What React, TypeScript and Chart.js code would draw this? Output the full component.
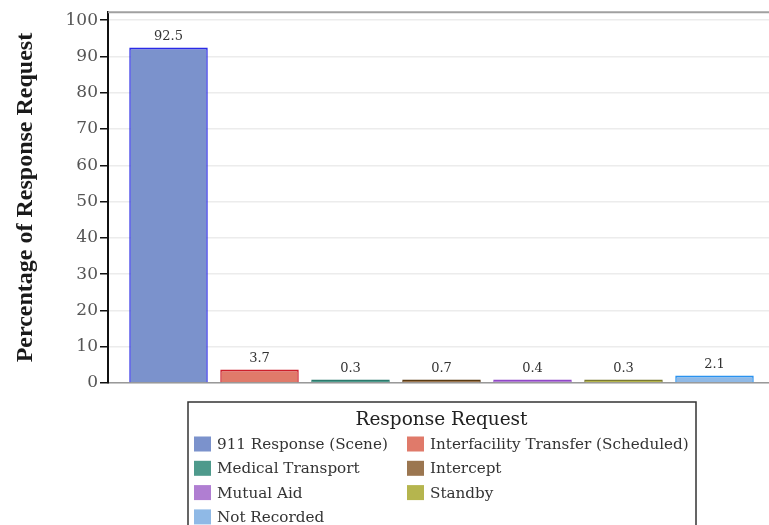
import React, { useEffect, useRef } from "react";
import { Chart, registerables } from "chart.js";

Chart.register(...registerables);

const categories = [
  "911 Response (Scene)",
  "Interfacility Transfer (Scheduled)",
  "Medical Transport",
  "Intercept",
  "Mutual Aid",
  "Standby",
  "Not Recorded",
];
const values = [92.5, 3.7, 0.3, 0.7, 0.4, 0.3, 2.1];
const fillColors = ["#7b92cc", "#e07a6a", "#4e9a8c", "#9b7650", "#b07ed2", "#b5b54e", "#8fb9e6"];
const borderColors = ["#2a2ae6", "#cc1f2a", "#2a7a6c", "#5a3a12", "#9048c8", "#7a7a30", "#2a92ef"];
const yTicks = [0, 10, 20, 30, 40, 50, 60, 70, 80, 90, 100];
const yTitle = "Percentage of Response Request";
const legendTitle = "Response Request";

const W = 780;
const H = 525;

const valueLabelPlugin = {
  id: "valueLabels",
  afterDatasetsDraw(chart: any) {
    const ctx = chart.ctx;
    ctx.save();
    ctx.font = "13px 'DejaVu Serif'";
    ctx.fillStyle = "#333";
    ctx.textAlign = "center";
    ctx.textBaseline = "bottom";
    chart.data.datasets.forEach((ds: any, i: number) => {
      const meta = chart.getDatasetMeta(i);
      const bar = meta.data[0];
      if (!bar) return;
      ctx.fillText(String(ds.data[0]), bar.x, bar.y - 4);
    });
    ctx.restore();
  },
};

const framePlugin = {
  id: "frame",
  afterDraw(chart: any) {
    const ctx = chart.ctx;
    const a = chart.chartArea;
    ctx.save();
    ctx.strokeStyle = "#a0a0a0";
    ctx.lineWidth = 2;
    ctx.beginPath();
    ctx.moveTo(a.left, a.top);
    ctx.lineTo(a.right + 10, a.top);
    ctx.stroke();
    ctx.restore();
  },
};

const legendPlugin = {
  id: "customLegend",
  afterDraw(chart: any) {
    const ctx = chart.ctx;
    const a = chart.chartArea;
    const cx = (a.left + a.right) / 2;
    const boxW = 508;
    const boxX = Math.round(cx - boxW / 2);
    const boxY = a.bottom + 19;
    ctx.save();
    ctx.strokeStyle = "#333";
    ctx.lineWidth = 1.5;
    ctx.strokeRect(boxX, boxY, boxW, 200);
    ctx.fillStyle = "#222";
    ctx.font = "18.5px 'DejaVu Serif'";
    ctx.textAlign = "center";
    ctx.textBaseline = "middle";
    ctx.fillText(legendTitle, cx, boxY + 18);
    ctx.font = "15.2px 'DejaVu Serif'";
    ctx.textAlign = "left";
    const colX = [boxX + 6, boxX + 219];
    chart.data.datasets.forEach((ds: any, i: number) => {
      const col = i % 2;
      const row = Math.floor(i / 2);
      const x = colX[col];
      const y = boxY + 42 + row * 24.3;
      ctx.fillStyle = fillColors[i];
      ctx.fillRect(x, y - 7.5, 17, 15);
      ctx.fillStyle = "#333";
      ctx.fillText(ds.label, x + 23, y + 1);
    });
    ctx.restore();
  },
};

export default function App() {
  const ref = useRef<HTMLCanvasElement>(null);
  useEffect(() => {
    if (!ref.current) return;
    const chart = new Chart(ref.current, {
      type: "bar",
      data: {
        labels: [""],
        datasets: categories.map((c, i) => ({
          label: c,
          data: [values[i]],
          backgroundColor: fillColors[i],
          borderColor: borderColors[i],
          borderWidth: { top: 2, left: 1.5, right: 1.5, bottom: 0 },
          borderSkipped: false,
          minBarLength: 3.5,
          categoryPercentage: 0.955,
          barPercentage: 0.863,
        })),
      },
      options: {
        responsive: false,
        animation: false,
        layout: { padding: { top: 11, left: 0, right: 5, bottom: 0 } },
        plugins: { legend: { display: false }, tooltip: { enabled: false }, title: { display: false } },
        scales: {
          x: {
            afterFit(scale: any) {
              scale.height = 142;
            },
            ticks: { display: false },
            grid: { display: false },
            border: { color: "#999", width: 1.5 },
          },
          y: {
            min: 0,
            max: 102.2,
            afterFit(scale: any) {
              scale.width = 108;
            },
            afterBuildTicks(scale: any) {
              scale.ticks = yTicks.map((v) => ({ value: v }));
            },
            ticks: {
              font: { family: "'DejaVu Serif'", size: 17 },
              color: "#555",
              padding: 2,
            },
            grid: { color: "#ececec", tickColor: "#111", tickLength: 8, lineWidth: 1.5 },
            border: { color: "#111", width: 2 },
            title: {
              display: true,
              text: yTitle,
              font: { family: "'Liberation Serif'", size: 24, weight: "bold" },
              color: "#1a1a1a",
              padding: { top: 11, bottom: 0 },
            },
          },
        },
      },
      plugins: [valueLabelPlugin, framePlugin, legendPlugin],
    });
    return () => chart.destroy();
  }, []);
  return (
    <div style={{ position: "fixed", left: 0, top: 0, width: 769, height: 525, overflow: "hidden", background: "#fff" }}>
      <canvas ref={ref} width={W} height={H} style={{ width: W, height: H, display: "block" }} />
    </div>
  );
}
